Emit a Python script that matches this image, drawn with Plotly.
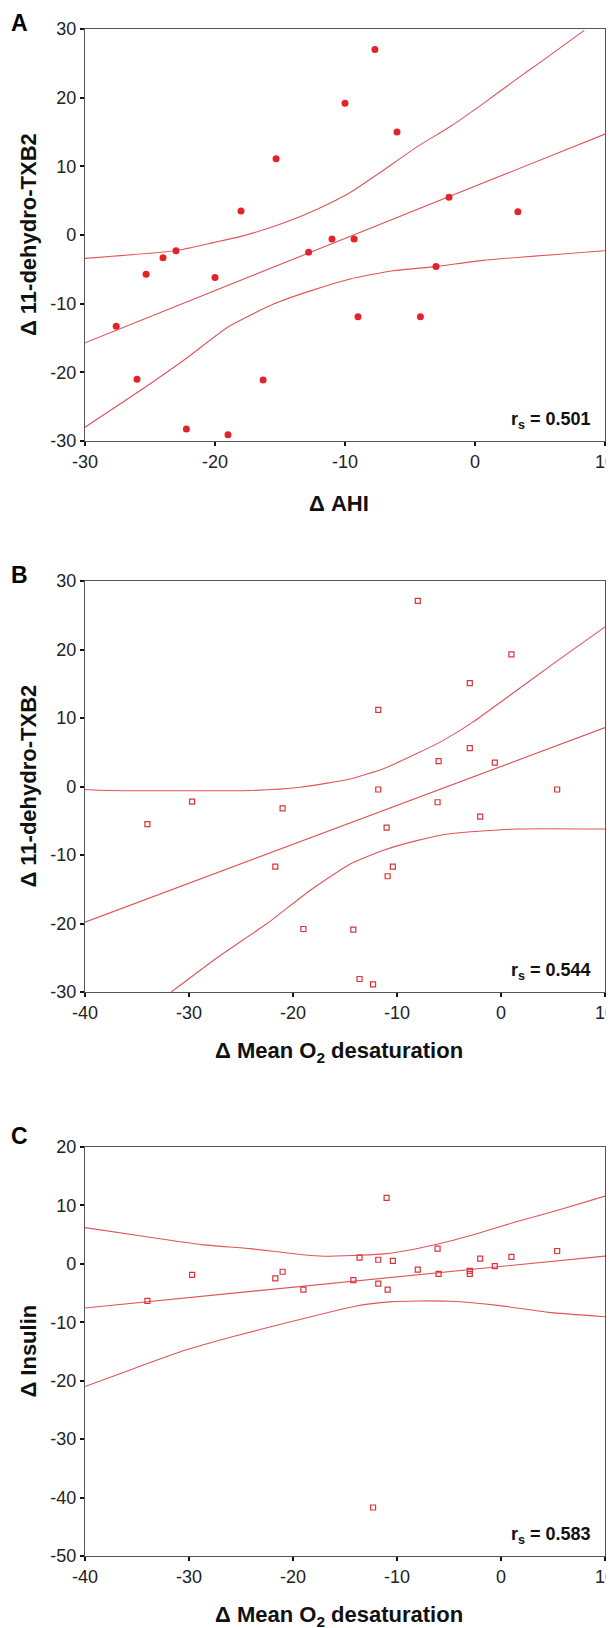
import plotly.graph_objects as go

# ---------------- data ----------------
# Panel A: delta AHI vs delta 11-dehydro-TXB2
ahi_x = [-27.6, -26.0, -25.3, -24.0, -23.0, -22.2, -20.0, -19.0, -18.0, -16.3, -15.3,
         -12.8, -11.0, -10.0, -9.3, -9.0, -7.7, -6.0, -4.2, -3.0, -2.0, 3.3]
txb_a_y = [-13.3, -21.0, -5.7, -3.3, -2.3, -28.25, -6.2, -29.1, 3.5, -21.1, 11.1,
           -2.5, -0.6, 19.2, -0.6, -11.9, 27.0, 15.0, -11.9, -4.6, 5.5, 3.4]
a_fit_x = [-30, 10]
a_fit_y = [-15.7, 14.7]
a_up_x = [-30, -23.1, -20.05, -18.0, -14.95, -12.1, -9.6, -7.3, -4.5, -1.9, 0.6, 3.2, 5.2, 8.4]
a_up_y = [-3.4, -2.3, -1.07, -0.2, 1.6, 3.8, 6.2, 9.1, 12.8, 15.8, 19.1, 22.7, 25.4, 29.8]
a_lo_x = [-30, -25.4, -22.3, -19.0, -15.5, -12.6, -9.6, -6.3, -3.0, 0.6, 10]
a_lo_y = [-28.0, -22.2, -18.1, -13.4, -10.05, -8.1, -6.4, -5.2, -4.6, -3.7, -2.3]

# Panels B and C: delta mean O2 desaturation (same subjects)
o2_x = [-34.0, -29.7, -21.7, -21.0, -19.0, -14.2, -13.6, -12.3, -11.8, -11.8, -11.0,
        -10.9, -10.4, -8.0, -6.1, -6.0, -3.0, -3.0, -2.0, -0.6, 1.0, 5.4]
txb_b_y = [-5.5, -2.2, -11.7, -3.2, -20.8, -20.9, -28.1, -28.9, 11.2, -0.44, -6.0,
           -13.1, -11.7, 27.1, -2.3, 3.7, 15.1, 5.6, -4.4, 3.5, 19.3, -0.44]
b_fit_x = [-40, 10]
b_fit_y = [-19.8, 8.6]
b_up_x = [-40, -37.8, -24.1, -19.3, -14.5, -11.3, -8.1, -5.6, -2.7, 0.8, 5.0, 10]
b_up_y = [-0.44, -0.58, -0.58, -0.1, 1.1, 2.6, 4.8, 6.7, 9.4, 13.25, 17.9, 23.3]
b_lo_x = [-31.7, -27.2, -22.5, -18.3, -14.5, -11.3, -8.1, -4.9, 1.45, 10]
b_lo_y = [-30, -24.9, -20.0, -15.1, -11.3, -9.3, -7.9, -6.9, -6.2, -6.2]

insulin_c_y = [-6.35, -1.9, -2.5, -1.35, -4.4, -2.8, 1.05, -41.7, 0.7, -3.4, 11.3,
               -4.4, 0.5, -1.0, 2.6, -1.7, -1.2, -1.7, 0.9, -0.4, 1.2, 2.2]
c_fit_x = [-40, 10]
c_fit_y = [-7.55, 1.33]
c_up_x = [-40, -33.6, -28.8, -24.1, -19.3, -17.0, -11.3, -8.1, -4.9, -1.7, 1.45, 5.3, 10]
c_up_y = [6.2, 4.5, 3.3, 2.6, 1.6, 1.3, 1.7, 2.6, 3.9, 5.5, 7.2, 9.1, 11.6]
c_lo_x = [-40, -35.2, -30.4, -25.65, -20.9, -13.9, -10.7, -8.1, -4.9, -0.1, 4.6, 10]
c_lo_y = [-21.0, -17.85, -14.8, -12.4, -10.2, -7.2, -6.5, -6.35, -6.4, -7.15, -8.3, -9.05]

panel_letters = ["A", "B", "C"]
rs_values = ["0.501", "0.544", "0.583"]
x_titles = ["Δ AHI", "Δ Mean O<sub>2</sub> desaturation", "Δ Mean O<sub>2</sub> desaturation"]
y_titles = ["Δ 11-dehydro-TXB2", "Δ 11-dehydro-TXB2", "Δ Insulin"]
x_tickvals = [[-30, -20, -10, 0, 10], [-40, -30, -20, -10, 0, 10], [-40, -30, -20, -10, 0, 10]]
x_ticktext = [["-30", "-20", "-10", "0", "10"],
              ["-40", "-30", "-20", "-10", "0", "10"],
              ["-40", "-30", "-20", "-10", "0", "10"]]
y_tickvals = [[-30, -20, -10, 0, 10, 20, 30], [-30, -20, -10, 0, 10, 20, 30],
              [-50, -40, -30, -20, -10, 0, 10, 20]]
y_ticktext = [["-30", "-20", "-10", "0", "10", "20", "30"],
              ["-30", "-20", "-10", "0", "10", "20", "30"],
              ["-50", "-40", "-30", "-20", "-10", "0", "10", "20"]]
x_ranges = [[-30, 10], [-40, 10], [-40, 10]]
y_ranges = [[-30, 30], [-30, 30], [-50, 20]]

# ---------------- layout geometry (pixels) ----------------
W, H = 614, 1628
PL, PR = 77, 607
TOP, BOT = 21, 1548
panels_px = [(21, 433), (573, 984), (1139, 1548)]
PH = BOT - TOP
PW = PR - PL


def py2paper(py):
    return (BOT - py) / PH


def px2paper(px):
    return (px - PL) / PW


DOT = "#e3232b"
LINE = "#e0545a"
SQ = "#d8343c"
FAM = "Liberation Sans, Arial, sans-serif"
TICKFONT = dict(family=FAM, size=18, color="#222")
TITLEFONT = dict(family=FAM, size=22, color="#111")

fig = go.Figure()

series = [
    (ahi_x, txb_a_y, a_fit_x, a_fit_y, a_up_x, a_up_y, a_lo_x, a_lo_y, "circle"),
    (o2_x, txb_b_y, b_fit_x, b_fit_y, b_up_x, b_up_y, b_lo_x, b_lo_y, "square-open"),
    (o2_x, insulin_c_y, c_fit_x, c_fit_y, c_up_x, c_up_y, c_lo_x, c_lo_y, "square-open"),
]

for i, (sx, sy, fx, fy, ux, uy, lx, ly, sym) in enumerate(series):
    xa = "x" if i == 0 else f"x{i+1}"
    ya = "y" if i == 0 else f"y{i+1}"
    for cx, cy in [(fx, fy), (ux, uy), (lx, ly)]:
        fig.add_trace(go.Scatter(x=cx, y=cy, mode="lines", xaxis=xa, yaxis=ya,
                                 line=dict(color=LINE, width=1.1, shape="spline", smoothing=0.5),
                                 showlegend=False, hoverinfo="skip"))
    if sym == "circle":
        mk = dict(symbol="circle", size=7, color=DOT, line=dict(width=0))
    else:
        mk = dict(symbol="square-open", size=5, color=SQ, line=dict(width=1.2, color=SQ))
    fig.add_trace(go.Scatter(x=sx, y=sy, mode="markers", xaxis=xa, yaxis=ya,
                             marker=mk, showlegend=False, cliponaxis=False))

layout = dict(
    width=W, height=H,
    margin=dict(l=PL, r=W - PR, t=TOP, b=H - BOT),
    paper_bgcolor="white", plot_bgcolor="white",
    showlegend=False,
)

axis_common = dict(showline=True, mirror=True, linecolor="#555", linewidth=1.3,
                   ticks="outside", ticklen=4, tickwidth=2, tickcolor="#111",
                   showgrid=False, zeroline=False, tickfont=TICKFONT,
                   ticklabeloverflow="allow")

annotations = []
for i, (top, bot) in enumerate(panels_px):
    sfx = "" if i == 0 else str(i + 1)
    layout["xaxis" + sfx] = dict(axis_common, domain=[0, 1], range=x_ranges[i],
                                 anchor="y" + sfx, tickmode="array",
                                 tickvals=x_tickvals[i], ticktext=x_ticktext[i])
    layout["yaxis" + sfx] = dict(axis_common, domain=[py2paper(bot), py2paper(top)],
                                 range=y_ranges[i], anchor="x" + sfx, tickmode="array",
                                 tickvals=y_tickvals[i], ticktext=y_ticktext[i])
    # panel letter
    annotations.append(dict(text="<b>%s</b>" % panel_letters[i], xref="paper", yref="paper",
                            x=px2paper(0), y=py2paper(top - 6 if i < 2 else top - 11),
                            xanchor="left", yanchor="middle", showarrow=False,
                            font=dict(family=FAM, size=23, color="#000")))
    # r_s label
    annotations.append(dict(text="<b>r<sub>s</sub> = %s</b>" % rs_values[i], xref="paper", yref="paper",
                            x=px2paper(595), y=py2paper(bot - 21),
                            xanchor="right", yanchor="middle", showarrow=False,
                            font=dict(family=FAM, size=18, color="#111")))
    # x title
    if i == 0:
        annotations.append(dict(text="<b>%s</b>" % x_titles[i], xref="paper", yref="paper",
                                x=px2paper(336), y=py2paper(bot + 63),
                                xanchor="center", yanchor="middle", showarrow=False,
                                font=TITLEFONT))
    else:
        annotations.append(dict(text="<b>%s</b>" % x_titles[i], xref="paper", yref="paper",
                                x=px2paper(336), y=py2paper(bot + 76),
                                xanchor="center", yanchor="bottom", showarrow=False,
                                font=TITLEFONT))
    # y title
    annotations.append(dict(text="<b>%s</b>" % y_titles[i], xref="paper", yref="paper",
                            x=px2paper(19), y=py2paper((top + bot) / 2),
                            xanchor="center", yanchor="middle", showarrow=False,
                            textangle=-90, font=TITLEFONT))

layout["annotations"] = annotations
fig.update_layout(**layout)
fig.write_html("out.html")
